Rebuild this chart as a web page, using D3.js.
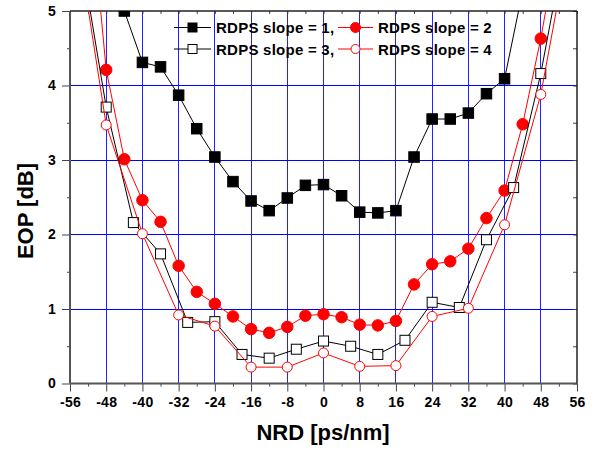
<!DOCTYPE html>
<html>
<head>
<meta charset="utf-8">
<script src="https://cdn.jsdelivr.net/npm/d3@7"></script>
<style>
  html, body { margin: 0; padding: 0; background: #fff; }
  svg { display: block; font-family: "Liberation Sans", Arial, sans-serif; }
</style>
</head>
<body>
<svg id="chart" width="596" height="452"></svg>
<script>
// NRD [ps/nm] vs EOP [dB], one pair of arrays per RDPS slope
const slope1X = [-48, -44, -40, -36, -32, -28, -24, -20, -16, -12, -8, -4, 0, 4, 8, 12, 16, 20, 24, 28, 32, 36, 40, 44];
const slope1Y = [5.4, 5.0, 4.31, 4.25, 3.87, 3.42, 3.04, 2.71, 2.45, 2.32, 2.49, 2.66, 2.67, 2.52, 2.30, 2.29, 2.32, 3.04, 3.55, 3.55, 3.63, 3.89, 4.09, 5.27];

const slope2X = [-52, -48, -44, -40, -36, -32, -28, -24, -20, -16, -12, -8, -4, 0, 4, 8, 12, 16, 20, 24, 28, 32, 36, 40, 44, 48, 52];
const slope2Y = [6.8, 4.21, 3.01, 2.46, 2.17, 1.58, 1.23, 1.07, 0.90, 0.73, 0.68, 0.76, 0.91, 0.93, 0.89, 0.79, 0.78, 0.84, 1.33, 1.60, 1.64, 1.81, 2.22, 2.59, 3.48, 4.63, 6.0];

const slope3X = [-54, -48, -42, -36, -30, -24, -18, -12, -6, 0, 6, 12, 18, 24, 30, 36, 42, 48, 54];
const slope3Y = [5.9, 3.71, 2.16, 1.74, 0.82, 0.83, 0.39, 0.34, 0.46, 0.57, 0.50, 0.39, 0.58, 1.09, 1.02, 1.93, 2.63, 4.16, 6.1];

const slope4X = [-56, -48, -40, -32, -24, -16, -8, 0, 8, 16, 24, 32, 40, 48, 56];
const slope4Y = [6.6, 3.47, 2.01, 0.92, 0.77, 0.22, 0.22, 0.41, 0.23, 0.24, 0.90, 1.01, 2.13, 3.88, 6.5];

const xTicks = [-56, -48, -40, -32, -24, -16, -8, 0, 8, 16, 24, 32, 40, 48, 56];
const xMinorTicks = [-52, -44, -36, -28, -20, -12, -4, 4, 12, 20, 28, 36, 44, 52];
const yTicks = [0, 1, 2, 3, 4, 5];
const yMinorTicks = [0.5, 1.5, 2.5, 3.5, 4.5];
const xGrid = [-48, -40, -32, -24, -16, -8, 0, 8, 16, 24, 32, 40, 48];
const yGrid = [1, 2, 3, 4];

const legendLabels = ['RDPS slope = 1,', 'RDPS slope = 2', 'RDPS slope = 3,', 'RDPS slope = 4'];

main();

function main () {
  const svg = d3.select('svg#chart');
  const left = 70, right = 577, top = 11, bottom = 383.5;

  const x = d3.scaleLinear().domain([-56, 56]).range([left, right]);
  const y = d3.scaleLinear().domain([0, 5]).range([bottom, top]);

  svg.append('defs').append('clipPath').attr('id', 'plotclip')
    .append('rect').attr('x', left).attr('y', top)
    .attr('width', right - left).attr('height', bottom - top);

  // grid
  const grid = svg.append('g').attr('shape-rendering', 'crispEdges');
  grid.selectAll('line.vg').data(xGrid).join('line')
    .attr('x1', d => x(d)).attr('x2', d => x(d))
    .attr('y1', top).attr('y2', bottom)
    .attr('stroke', '#2222ff').attr('stroke-width', 1);
  grid.selectAll('line.hg').data(yGrid).join('line')
    .attr('x1', left).attr('x2', right)
    .attr('y1', d => y(d)).attr('y2', d => y(d))
    .attr('stroke', '#0000ff').attr('stroke-width', 1);

  // axes
  const fmt = d => String(d);
  svg.append('g').attr('transform', `translate(0,${bottom})`)
    .call(d3.axisBottom(x).tickValues(xTicks).tickSize(8).tickPadding(6).tickFormat(fmt));
  svg.append('g').attr('transform', `translate(0,${bottom})`)
    .call(d3.axisBottom(x).tickValues(xMinorTicks).tickSize(3).tickFormat(''));
  svg.append('g').attr('transform', `translate(${left},0)`)
    .call(d3.axisLeft(y).tickValues(yTicks).tickSize(8).tickPadding(6).tickFormat(fmt));
  svg.append('g').attr('transform', `translate(${left},0)`)
    .call(d3.axisLeft(y).tickValues(yMinorTicks).tickSize(3).tickFormat(''));
  svg.append('g').attr('transform', `translate(0,${top})`)
    .call(d3.axisBottom(x).tickValues(xMinorTicks.concat(xTicks)).tickSize(3).tickFormat(''));
  svg.append('g').attr('transform', `translate(${right},0)`)
    .call(d3.axisLeft(y).tickValues(yMinorTicks.concat(yTicks)).tickSize(4).tickFormat(''));

  svg.selectAll('.domain').remove();
  svg.selectAll('.tick line').attr('stroke', '#444');
  svg.selectAll('.tick text')
    .attr('font-family', '"Liberation Sans", Arial, sans-serif')
    .attr('font-size', 14).attr('font-weight', 'bold').attr('fill', '#000')
    .attr('letter-spacing', 0.3);

  // frame
  svg.append('line').attr('x1', left).attr('x2', left).attr('y1', top).attr('y2', bottom)
    .attr('stroke', '#555').attr('stroke-width', 2);
  svg.append('line').attr('x1', left).attr('x2', right).attr('y1', bottom).attr('y2', bottom)
    .attr('stroke', '#555').attr('stroke-width', 2);
  svg.append('line').attr('x1', left).attr('x2', right).attr('y1', top).attr('y2', top)
    .attr('stroke', '#222').attr('stroke-width', 1.5);
  svg.append('line').attr('x1', right).attr('x2', right).attr('y1', top).attr('y2', bottom)
    .attr('stroke', '#222').attr('stroke-width', 1.5);

  // series
  const plot = svg.append('g').attr('clip-path', 'url(#plotclip)');
  const series = [
    { xs: slope1X, ys: slope1Y, color: '#000', shape: 'square', fill: '#000' },
    { xs: slope2X, ys: slope2Y, color: '#ff0000', shape: 'circle', fill: '#ff0000' },
    { xs: slope3X, ys: slope3Y, color: '#000', shape: 'square', fill: '#fff' },
    { xs: slope4X, ys: slope4Y, color: '#ff0000', shape: 'circle', fill: '#fff' },
  ];
  const line = d3.line().x(d => x(d[0])).y(d => y(d[1]));

  series.forEach(s => {
    const pts = s.xs.map((v, i) => [v, s.ys[i]]);
    const g = plot.append('g');
    g.append('path').datum(pts).attr('d', line)
      .attr('fill', 'none').attr('stroke', s.color).attr('stroke-width', 1);
    drawMarkers(g, pts.map(p => [x(p[0]), y(p[1])]), s, s.fill === '#fff' ? 10 : 10.5);
  });

  // legend
  const legend = svg.append('g');
  const rows = [27.5, 49];
  const cols = [{ l0: 174, l1: 211, tx: 216 }, { l0: 338, l1: 373, tx: 378 }];
  [[0, 0], [0, 1], [1, 0], [1, 1]].forEach(([r, c], i) => {
    const s = series[i];
    const ly = rows[r];
    const col = cols[c];
    legend.append('line').attr('x1', col.l0).attr('x2', col.l1).attr('y1', ly).attr('y2', ly)
      .attr('stroke', s.color).attr('stroke-width', 1);
    drawMarkers(legend, [[(col.l0 + col.l1) / 2, ly]], s, 9);
    legend.append('text').text(legendLabels[i])
      .attr('x', col.tx).attr('y', ly + 5.5)
      .attr('font-size', 15).attr('font-weight', 'bold').attr('fill', '#000')
      .attr('letter-spacing', 0.25);
  });

  // axis titles
  svg.append('text').text('NRD [ps/nm]')
    .attr('x', 323).attr('y', 440)
    .attr('text-anchor', 'middle')
    .attr('font-size', 22).attr('font-weight', 'bold');
  svg.append('text').text('EOP [dB]')
    .attr('transform', 'translate(33,211) rotate(-90)')
    .attr('text-anchor', 'middle')
    .attr('font-size', 22).attr('font-weight', 'bold');
}

function drawMarkers (g, pts, s, size) {
  if (s.shape === 'square') {
    g.selectAll(null).data(pts).join('rect')
      .attr('x', d => d[0] - size / 2).attr('y', d => d[1] - size / 2)
      .attr('width', size).attr('height', size)
      .attr('fill', s.fill).attr('stroke', s.color).attr('stroke-width', 1);
  } else {
    g.selectAll(null).data(pts).join('circle')
      .attr('cx', d => d[0]).attr('cy', d => d[1])
      .attr('r', s.fill === '#fff' ? size / 2 : size / 2 + 0.5)
      .attr('fill', s.fill).attr('stroke', s.color).attr('stroke-width', 1);
  }
}
</script>
</body>
</html>
